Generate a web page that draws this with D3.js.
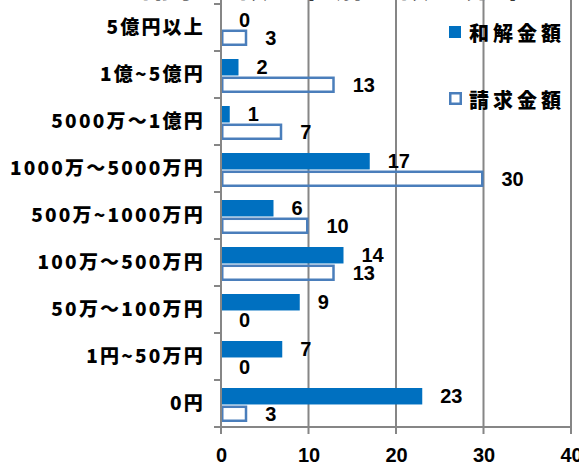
<!DOCTYPE html>
<html>
<head>
<meta charset="utf-8">
<script src="https://cdn.jsdelivr.net/npm/d3@7"></script>
<style>
  html, body { margin: 0; padding: 0; background: #fff; }
  svg { display: block; }
  .cat { font-family: "Noto Sans CJK JP", sans-serif; font-weight: 900; font-size: 19px; letter-spacing: 2.2px; }
  .num { font-family: "Liberation Sans", Arial, sans-serif; font-weight: 700; font-size: 20px; }
</style>
</head>
<body>
<svg id="chart" width="579" height="465"></svg>
<script>
// Amount brackets, largest at the top
const categories = [
  "5億円以上", "1億~5億円", "5000万〜1億円", "1000万〜5000万円",
  "500万~1000万円", "100万〜500万円", "50万〜100万円", "1円~50万円", "0円"
];
const seriesNames = ["和解金額", "請求金額"];
const settlement = [0, 2, 1, 17, 6, 14, 9, 7, 23];   // 和解金額
const claimed    = [3, 13, 7, 30, 10, 13, 0, 0, 3];  // 請求金額
const xTicks = [0, 10, 20, 30, 40];
const titleText = "請求金額と和解金額の分布";

const FILL = "#0070c0", OUTLINE = "#4a7ebb", GRID = "#868686";

const svg = d3.select("#chart");
const plot = { left: 221, right: 571, top: 4, bottom: 427 };

const x = d3.scaleLinear().domain([0, 40]).range([plot.left, plot.right]);
const y = d3.scaleBand().domain(categories).range([plot.top, plot.bottom]);
const ySub = d3.scaleBand().domain(seriesNames).range([8, 42]).paddingInner(0.06);

// Title (runs off the top edge)
svg.append("text").attr("class", "cat")
  .attr("x", 335).attr("y", -3).attr("text-anchor", "middle")
  .style("font-size", "30px")
  .text(titleText);

// Vertical gridlines
svg.append("g").selectAll("line").data(xTicks.slice(1)).join("line")
  .attr("x1", d => x(d)).attr("x2", d => x(d))
  .attr("y1", 0).attr("y2", plot.bottom + 7)
  .attr("stroke", GRID).attr("stroke-width", 2);

const rows = categories.map((c, i) => ({ c, s: settlement[i], q: claimed[i] }));

// 和解金額 bars (solid)
svg.append("g").selectAll("rect").data(rows).join("rect")
  .attr("x", x(0))
  .attr("y", d => y(d.c) + ySub("和解金額"))
  .attr("width", d => x(d.s) - x(0))
  .attr("height", ySub.bandwidth())
  .attr("fill", FILL);

// 請求金額 bars (outlined)
const sw = 2.5;
svg.append("g").selectAll("rect").data(rows.filter(d => d.q > 0)).join("rect")
  .attr("x", x(0) + sw / 2)
  .attr("y", d => y(d.c) + ySub("請求金額") + sw / 2)
  .attr("width", d => x(d.q) - x(0) - sw)
  .attr("height", ySub.bandwidth() - sw)
  .attr("fill", "none")
  .attr("stroke", OUTLINE).attr("stroke-width", sw);

// Value labels
const labelGap = 18;
svg.append("g").selectAll("text").data(rows).join("text")
  .attr("class", "num")
  .attr("x", d => x(d.s) + labelGap)
  .attr("y", d => y(d.c) + ySub("和解金額") + ySub.bandwidth() / 2)
  .attr("dominant-baseline", "central")
  .text(d => d.s);
svg.append("g").selectAll("text").data(rows).join("text")
  .attr("class", "num")
  .attr("x", d => x(d.q) + labelGap)
  .attr("y", d => y(d.c) + ySub("請求金額") + ySub.bandwidth() / 2)
  .attr("dominant-baseline", "central")
  .text(d => d.q);

// Left category axis
const yAxis = svg.append("g").attr("transform", `translate(${plot.left},0)`)
  .call(d3.axisLeft(y).tickSize(0).tickPadding(16));
yAxis.select(".domain").remove();
yAxis.selectAll("text").attr("class", "cat").attr("fill", "#000");
svg.append("line")
  .attr("x1", plot.left).attr("x2", plot.left)
  .attr("y1", 0).attr("y2", plot.bottom + 7)
  .attr("stroke", GRID).attr("stroke-width", 2);
const boundaries = categories.map(c => y(c)).concat([plot.bottom]);
svg.append("g").selectAll("line").data(boundaries).join("line")
  .attr("x1", plot.left - 7).attr("x2", plot.left)
  .attr("y1", d => d).attr("y2", d => d)
  .attr("stroke", GRID).attr("stroke-width", 2);

// Bottom value axis
const xAxis = svg.append("g").attr("transform", `translate(0,${plot.bottom})`)
  .call(d3.axisBottom(x).tickValues(xTicks).tickSize(0).tickPadding(21));
xAxis.select(".domain").remove();
xAxis.selectAll("text").attr("class", "num").attr("fill", "#000");
svg.append("line")
  .attr("x1", plot.left - 7).attr("x2", plot.right + 1)
  .attr("y1", plot.bottom).attr("y2", plot.bottom)
  .attr("stroke", GRID).attr("stroke-width", 2);

// Legend
const legend = svg.append("g");
legend.append("rect").attr("x", 449).attr("y", 26).attr("width", 12).attr("height", 12).attr("fill", FILL);
legend.append("rect").attr("x", 450.25).attr("y", 93.25).attr("width", 10.5).attr("height", 10.5)
  .attr("fill", "none").attr("stroke", OUTLINE).attr("stroke-width", 2.5);
legend.selectAll("text.lg").data(seriesNames).join("text")
  .attr("class", "cat lg")
  .attr("x", 469).attr("y", (d, i) => i === 0 ? 32 : 99)
  .attr("dominant-baseline", "central")
  .style("font-size", "20px").style("letter-spacing", "4px")
  .text(d => d);
</script>
</body>
</html>
